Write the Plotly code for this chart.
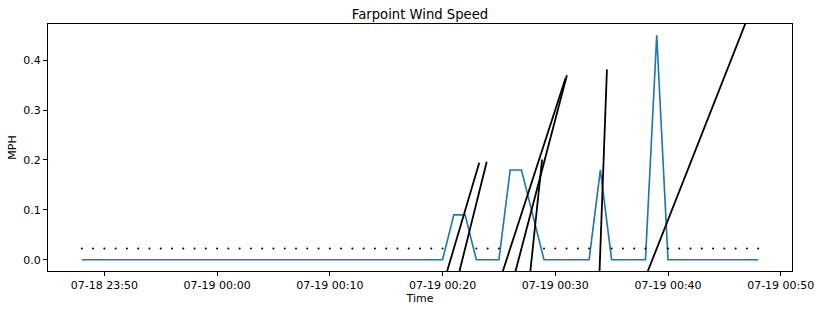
import math
import pandas as pd
import plotly.graph_objects as go

# ---- data ----
times = pd.date_range("2023-07-18 23:48", "2023-07-19 00:48", freq="1min")
speed_mph = [0.0] * 33 + [0.09, 0.09, 0.0, 0.0, 0.0, 0.18, 0.18, 0.09,
                          0.0, 0.0, 0.0, 0.0, 0.0, 0.18, 0.0, 0.0, 0.0, 0.0,
                          0.45] + [0.0] * 9
# arrow direction (deg clockwise from screen-up), only meaningful for non-zero speed
direction_deg = [0.0] * 33 + [16.5, 14.0, 0, 0, 0, 18.0, 14.7, 6.0,
                              0, 0, 0, 0, 0, 2.1, 0, 0, 0, 0,
                              21.5] + [0.0] * 9
arrow_y = 0.0225
x_range = [pd.Timestamp("2023-07-18 23:45"), pd.Timestamp("2023-07-19 00:51")]
y_range = [-0.0225, 0.4725]
tick_vals = pd.date_range("2023-07-18 23:50", "2023-07-19 00:50", freq="10min")
tick_text = [t.strftime("%m-%d %H:%M") for t in tick_vals]

# ---- layout geometry ----
W, H = 823, 311
ML, MR, MT, MB = 48, 31, 24, 40
pw, ph = W - ML - MR, H - MT - MB
px_per_min = pw / ((x_range[1] - x_range[0]).total_seconds() / 60)
px_per_unit = ph / (y_range[1] - y_range[0])
arrow_px_per_mph = 995.0

fig = go.Figure()
fig.add_trace(go.Scatter(x=times, y=speed_mph, mode="lines",
                         line=dict(color="#1f77b4", width=1.65), showlegend=False))

# quiver-like segments (pivot middle) and dots for zero vectors
ax, ay, dx_, dy_ = [], [], [], []
for t, s, d in zip(times, speed_mph, direction_deg):
    if s == 0:
        dx_.append(t); dy_.append(arrow_y)
        continue
    L = s * arrow_px_per_mph
    dxm = L * math.sin(math.radians(d)) / px_per_min
    dyv = L * math.cos(math.radians(d)) / px_per_unit
    ax += [t - pd.Timedelta(minutes=dxm), t + pd.Timedelta(minutes=dxm), None]
    ay += [arrow_y - dyv, arrow_y + dyv, None]
fig.add_trace(go.Scatter(x=ax, y=ay, mode="lines", line=dict(color="black", width=1.8),
                         showlegend=False, connectgaps=False))
fig.add_trace(go.Scatter(x=dx_, y=dy_, mode="markers",
                         marker=dict(color="black", size=2), showlegend=False))

font = dict(family="DejaVu Sans", size=11, color="black")
fig.update_layout(
    width=W, height=H, margin=dict(l=ML, r=MR, t=MT, b=MB, autoexpand=False),
    paper_bgcolor="white", plot_bgcolor="white", font=font,
    title=dict(text="Farpoint Wind Speed", x=0.5, xref="paper", xanchor="center",
               y=1 - 14 / H, yanchor="middle",
               font=dict(family="DejaVu Sans", size=13.2, color="black")),
    xaxis=dict(range=x_range, tickvals=tick_vals, ticktext=tick_text, showgrid=False,
               zeroline=False, ticks="outside", ticklen=4, tickcolor="black",
               showline=True, linecolor="black", linewidth=1, mirror=True,
               automargin=False, title=dict(text="Time", standoff=0, font=font)),
    yaxis=dict(range=y_range, tickvals=[0, 0.1, 0.2, 0.3, 0.4], tickformat=".1f",
               showgrid=False, zeroline=False, ticks="outside", ticklen=4,
               tickcolor="black", showline=True, linecolor="black", linewidth=1,
               mirror=True, automargin=False,
               title=dict(text="MPH", standoff=4, font=font)),
)
fig.write_html("out.html")
